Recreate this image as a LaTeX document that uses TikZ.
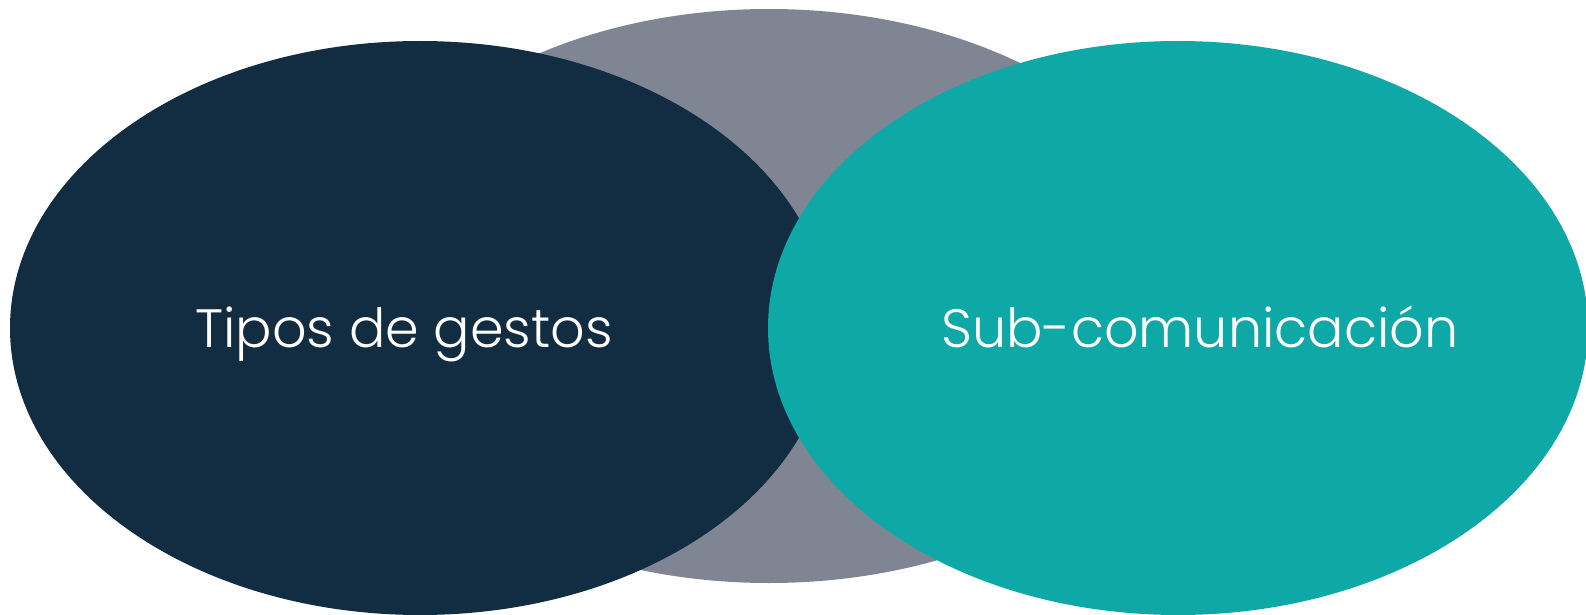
\documentclass[tikz,border=0pt]{standalone}
\usepackage{fontspec}
\setmainfont{Poppins Light}
\usetikzlibrary{shapes.geometric}
\definecolor{navy}{HTML}{122C42}
\definecolor{slate}{HTML}{808594}
\definecolor{teal2}{HTML}{0EA9A7}
\tikzset{
  blob/.style={ellipse, inner sep=0pt, draw=none},
  lbl/.style={text=white, anchor=base, font=\fontsize{54}{62}\selectfont, inner sep=0pt}
}
\begin{document}
\begin{tikzpicture}[x=1pt,y=-1pt]
\useasboundingbox (0,0) rectangle (1586,615);
\clip (0,0) rectangle (1586,615);
\node[blob, fill=slate, minimum width=860pt, minimum height=574pt] (mid) at (769,296) {};
\node[blob, fill=navy, minimum width=820pt, minimum height=574pt] (left) at (420,328) {};
\node[blob, fill=teal2, minimum width=820pt, minimum height=574pt] (right) at (1178,328) {};
\node[lbl] (ltext) at (404,347) {Tipos de gestos};
\node[lbl] (rtext) at (1200,347) {Sub-comunicación};
\end{tikzpicture}
\end{document}
